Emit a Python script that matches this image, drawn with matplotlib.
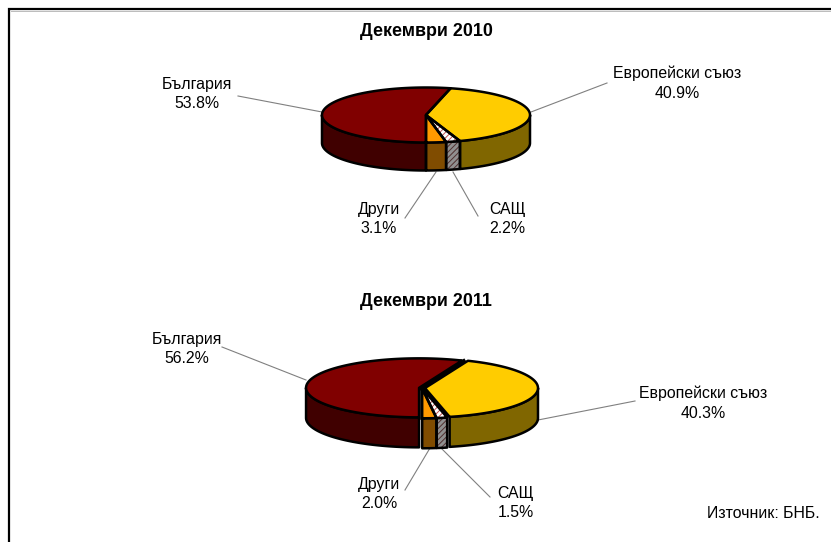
import numpy as np
import matplotlib
matplotlib.use('Agg')
import matplotlib.pyplot as plt
from matplotlib.patches import Polygon

plt.rcParams['font.family'] = ['Liberation Sans', 'DejaVu Sans']
plt.rcParams['hatch.linewidth'] = 0.7

# Data
names = ['България', 'Европейски съюз', 'САЩ', 'Други']
values_2010 = [53.8, 40.9, 2.2, 3.1]
values_2011 = [56.2, 40.3, 1.5, 2.0]
titles = ['Декември 2010', 'Декември 2011']
source_text = 'Източник: БНБ.'

# Styles, same order as names
top_colors = ['#800000', '#FFCC00', '#FFFFFF', '#FF9900']
side_colors = ['#400000', '#806600', '#909090', '#804C00']
top_hatches = [None, None, '//////', None]
side_hatches = [None, None, '//////', None]
hatch_colors = ['none', 'none', '#C05050', 'none']
side_hatch_colors = ['none', 'none', '#503030', 'none']


def ellipse_arc(cx, cy, rx, ry, t1, t2):
    t = np.radians(np.linspace(t1, t2, max(int(abs(t2 - t1)) * 2, 4)))
    return np.column_stack([cx + rx * np.sin(t), cy - ry * np.cos(t)])


def draw_pie(ax, values, cx, cy, rx, ry, depth, explode):
    total = sum(values)
    start = 180.0
    slices = []
    for i, v in enumerate(values):
        end = start + v / total * 360
        mid = np.radians((start + end) / 2)
        sx = cx + explode * np.sin(mid)
        sy = cy - explode * ry / rx * np.cos(mid)
        slices.append((i, start, end, sx, sy))
        start = end

    # side walls, only the front half of the ellipse shows
    for i, t1, t2, sx, sy in slices:
        for lo, hi in [(90, 270), (450, 630)]:
            a, b = max(t1, lo), min(t2, hi)
            if a >= b:
                continue
            upper = ellipse_arc(sx, sy, rx, ry, a, b)
            lower = upper[::-1] + [0, depth]
            pts = np.vstack([upper, lower])
            ax.add_patch(Polygon(pts, closed=True, fc=side_colors[i], ec='none', zorder=2))
            if side_hatches[i]:
                ax.add_patch(Polygon(pts, closed=True, fc='none', ec=side_hatch_colors[i],
                                     hatch=side_hatches[i], lw=0, zorder=2.1))
            ax.add_patch(Polygon(pts, closed=True, fc='none', ec='black', lw=1.8,
                                 joinstyle='round', zorder=2.2))

    # the gaps between exploded slices read as solid black from above
    if explode:
        for i, t1, t2, sx, sy in slices:
            t = np.radians(t1)
            ax.plot([cx, cx + 0.97 * rx * np.sin(t)], [cy, cy - 0.97 * ry * np.cos(t)],
                    color='black', lw=explode * 1.1, zorder=2.9)

    # top faces
    for i, t1, t2, sx, sy in slices:
        pts = np.vstack([[sx, sy], ellipse_arc(sx, sy, rx, ry, t1, t2)])
        ax.add_patch(Polygon(pts, closed=True, fc=top_colors[i], ec='none', zorder=3))
        if top_hatches[i]:
            ax.add_patch(Polygon(pts, closed=True, fc='none', ec=hatch_colors[i],
                                 hatch=top_hatches[i], lw=0, zorder=3.1))
        ax.add_patch(Polygon(pts, closed=True, fc='none', ec='black', lw=1.8,
                             joinstyle='round', zorder=3.2))


def draw_label(ax, name, value, x, y, line):
    ax.plot(line[0], line[1], color='#808080', lw=0.8, zorder=1)
    ax.text(x, y, f'{name}\n{value}%', ha='center', va='center', fontsize=11.4,
            linespacing=1.38, color='black')


fig = plt.figure(figsize=(8.31, 5.42), dpi=100)
ax = fig.add_axes([0, 0, 1, 1])
ax.set_xlim(0, 831)
ax.set_ylim(542, 0)
ax.axis('off')

# frame of the original chart, left and top only
ax.plot([9, 9, 831], [542, 9, 9], color='black', lw=1.6, solid_joinstyle='miter')
ax.plot([10.5, 831], [10.8, 10.8], color='#BBBBBB', lw=0.7)

ax.text(426, 31.5, titles[0], ha='center', va='center', fontsize=12.9, fontweight='bold')
ax.text(426, 301, titles[1], ha='center', va='center', fontsize=12.9, fontweight='bold')

draw_pie(ax, values_2010, 426, 115, 104, 27.5, 28, 0)
draw_pie(ax, values_2011, 422, 388, 113, 29.5, 30, 3)

draw_label(ax, names[0], values_2010[0], 197, 94, ([238, 322], [96, 112]))
draw_label(ax, names[1], values_2010[1], 677, 83, ([531, 607], [112, 83]))
draw_label(ax, names[3], values_2010[3], 379, 219, ([436, 405], [172, 218]))
draw_label(ax, names[2], values_2010[2], 507, 219, ([453, 478], [172, 216]))

draw_label(ax, names[0], values_2011[0], 187, 349, ([222, 306], [347, 380]))
draw_label(ax, names[1], values_2011[1], 703, 403, ([538, 635], [420, 401]))
draw_label(ax, names[3], values_2011[3], 379, 494, ([430, 405], [448, 490]))
draw_label(ax, names[2], values_2011[2], 516, 503, ([441, 490], [448, 497]))

ax.text(820, 513.5, source_text, ha='right', va='center', fontsize=11.4)

fig.savefig('out.png', dpi=100)
